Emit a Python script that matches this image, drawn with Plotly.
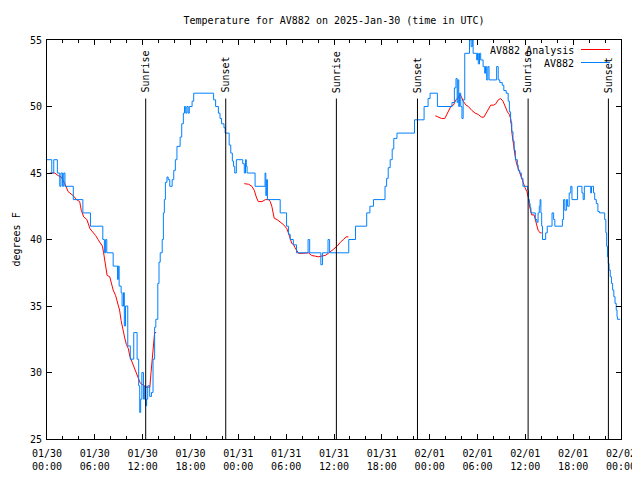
import pandas as pd
import plotly.graph_objects as go

start = pd.Timestamp("2025-01-30 00:00")
span_hours = 72

# AV882 observations: (hours since 01/30 00:00 UTC, temperature F), drawn as steps
obs = [(0.0,46),(0.6,45),(0.85,46),(1.3,45),(1.6,44),(1.75,45),(1.95,44),(2.1,45),(2.25,44),
       (3.3,43),(4.5,42),(5.45,41),(7.0,40),(7.2,39),(7.35,40),(7.5,39),(8.3,38),(8.85,37),
       (8.95,38),(9.05,36.5),(9.3,36),(9.42,35),(9.6,36),(9.7,33.5),(9.85,35),(10.13,32),
       (10.45,31),(10.88,33),(11.3,31),(11.5,29),(11.63,27),(11.75,28),(11.9,30),(12.1,28),
       (12.25,29),(12.38,27.5),(12.5,28),(12.63,29),(12.88,28.2),(13.1,28.5),(13.3,31),
       (13.5,33.4),(13.65,34),(13.9,36.7),(14.05,38.3),(14.2,39),(14.45,40),(14.6,42),
       (14.72,43),(14.85,44.3),(15.05,44.7),(15.2,44.5),(15.4,44),(15.7,44.5),(15.9,45.2),
       (16.1,46),(16.3,47),(16.7,47.7),(16.9,48.7),(17.1,49.5),(17.25,50),(17.4,49.5),
       (17.55,50),(17.7,49.5),(17.85,50),(18.2,50.4),(18.4,51),(20.9,50.5),(21.15,50),
       (21.5,49.5),(21.7,49.1),(21.9,48.7),(22.2,48.4),(22.35,48),(22.85,47.1),(23.05,46.5),
       (23.25,45.9),(23.4,45.5),(23.55,45),(23.75,46),(24.55,45.7),(24.75,45),(24.9,46),
       (25.0,45.5),(25.1,45),(26.1,44),(27.35,45),(27.45,43.3),(27.55,44.5),(27.65,43),
       (29.25,42),(30.05,41),(30.3,40.4),(30.5,40),(30.9,39.6),(31.3,39),(32.75,40),
       (32.95,39),(34.35,38.1),(34.55,39),(35.25,40),(35.45,39),(37.85,40),(38.7,41),
       (40.1,42),(40.5,42.5),(40.95,43),(42.4,44),(42.6,44.6),(42.8,45.4),(43.05,46),
       (43.3,46.8),(43.5,47.6),(43.9,48),(46.1,49),(47.3,50),(47.8,50.6),(48.05,51),
       (48.97,50),(50.8,50.3),(51.1,51.4),(51.3,52.1),(51.45,50.3),(51.55,52),(51.65,50),
       (51.75,51),(51.9,50),(52.05,49.1),(52.2,50.5),(52.4,54),(53.0,55),(53.2,54.5),
       (53.35,55),(53.45,54),(53.9,53.5),(54.0,54),(54.1,53.2),(54.25,54),(54.4,53.5),
       (54.7,53),(54.9,52.5),(55.0,53),(55.15,52),(55.3,53),(55.45,52),(56.4,53),(56.6,52),
       (56.8,51.8),(57.1,51.6),(57.3,51.2),(57.6,51),(57.85,50.4),(58.0,49.6),(58.15,48.8),
       (58.3,48.1),(58.45,47.4),(58.6,46.7),(58.75,46),(59.0,45.6),(59.1,45.2),(59.3,45),
       (59.5,44.6),(59.7,44),(60.3,43.7),(60.4,43),(60.5,42.7),(60.6,42.4),(60.7,42),
       (61.25,41.5),(61.45,41.3),(61.6,42),(61.75,42.5),(61.85,43),(61.95,42),(62.05,41),
       (62.15,40),(62.55,40.5),(62.75,41),(63.35,42),(63.55,41.5),(63.7,41),(64.65,41.5),
       (64.8,43),(64.95,42.2),(65.15,43),(65.3,42.5),(65.5,43.5),(65.7,44),(65.85,43),
       (66.55,44),(67.1,43.5),(67.25,43),(67.4,44),(68.2,43.5),(68.3,44),(68.55,43.5),
       (68.7,43),(68.9,42.7),(69.1,42.1),(69.3,42),(69.95,41.5),(70.1,40.5),(70.2,39.5),
       (70.3,38.7),(70.4,38.2),(70.5,37.7),(70.65,37.2),(70.8,36.7),(70.95,36.2),(71.1,35.7),
       (71.25,35.2),(71.4,34.7),(71.5,34.2),(71.55,34),(71.9,34)]

# AV882 Analysis: three segments
ana1_hours = [0.35,0.98,1.4,1.8,2.23,2.65,3.28,3.7,4.1,4.3,4.6,5.0,5.4,5.7,6.1,6.4,6.7,6.95,7.1,7.25,
              7.37,7.54,7.87,8.08,8.3,8.6,8.9,9.1,9.3,9.5,9.75,9.96,10.2,10.4,10.6,10.8,11.0,11.2,11.4,11.7,
              12.05,12.4,12.7,12.9,13.05,13.2,13.4,13.5,13.7]
ana1_temp = [45,45,44.8,44.7,44.2,43.6,43.3,43,42.85,42.2,41.7,41.5,40.8,40.6,40.3,40,39.7,39.5,39,38.5,
             38,37.3,37.2,36.7,36.2,35.8,35.2,34.7,33.9,33.2,32.6,32.1,31.8,31.2,30.9,30.5,30.3,29.9,29.7,29.2,
             29.06,28.9,28.9,28.9,30.0,31.2,32.2,33.0,33.0]
ana2_hours = [24.75,25.3,25.7,26.0,26.25,26.5,26.97,27.4,27.8,28.0,28.2,28.35,28.5,28.85,29.3,29.7,30.1,30.3,30.5,30.7,
              30.9,31.1,31.35,31.55,31.98,32.4,32.8,33.2,33.65,34.06,34.5,34.9,35.3,35.7,36.0,36.4,36.8,37.2,37.5,37.8]
ana2_temp = [44.2,44.15,44,43.7,43.2,42.85,42.85,43,43,42.85,42.5,42.1,41.6,41.5,41.3,41.1,40.8,40.5,40.1,39.7,
             39.65,39.4,39.1,38.96,38.96,39.0,39.0,38.8,38.76,38.7,38.76,38.8,38.96,39.2,39.3,39.5,39.8,40,40.2,40.2]
ana3_hours = [48.7,49.1,49.5,49.9,50.15,50.35,50.65,50.98,51.3,51.6,51.8,52.0,52.2,52.57,52.86,53.3,53.7,54.1,54.5,54.8,
              55.07,55.4,55.66,56.0,56.3,56.6,56.9,57.2,57.46,57.75,58.0,58.2,58.3,58.5,58.7,58.9,59.1,59.3,59.55,59.75,
              59.96,60.2,60.4,60.5,60.7,60.8,61.1,61.2,61.4,61.6,61.85,62.05]
ana3_temp = [49.3,49.2,49.1,49.1,49.4,49.6,50,50.1,50.5,50.7,50.9,50.7,50.4,50.1,50.0,49.7,49.5,49.4,49.2,49.2,
             49.5,49.8,50.1,50.1,50.2,50.5,50.6,50.4,50,49.6,49.4,49,48.1,47.1,46.35,45.7,45.35,44.9,44.6,44.2,
             43.9,43.6,43.1,42.6,42.1,41.85,41.85,41.6,41.1,40.7,40.5,40.5]

sunrise_hours = [12.38, 36.3, 60.35]
sunset_hours = [22.42, 46.47, 70.42]
sun_line_top = 50.6

xtick_hours = list(range(0, 73, 6))
xtick_labels = ["01/30<br>00:00", "01/30<br>06:00", "01/30<br>12:00", "01/30<br>18:00",
                "01/31<br>00:00", "01/31<br>06:00", "01/31<br>12:00", "01/31<br>18:00",
                "02/01<br>00:00", "02/01<br>06:00", "02/01<br>12:00", "02/01<br>18:00",
                "02/02<br>00:00"]

def to_time(hours):
    return [None if h is None else start + pd.Timedelta(hours=h) for h in hours]

ana_hours = ana1_hours + [None] + ana2_hours + [None] + ana3_hours
ana_temp = ana1_temp + [None] + ana2_temp + [None] + ana3_temp
obs_hours = [h for h, _ in obs]
obs_temp = [t for _, t in obs]

FONT = dict(family="DejaVu Sans Mono", size=10, color="black")
RED = "#ff0000"
BLUE = "#0080ff"

fig = go.Figure()
fig.add_trace(go.Scatter(x=to_time(ana_hours), y=ana_temp, mode="lines", name="AV882 Analysis",
                         line=dict(color=RED, width=1), connectgaps=False))
fig.add_trace(go.Scatter(x=to_time(obs_hours), y=obs_temp, mode="lines", name="AV882",
                         line=dict(color=BLUE, width=1, shape="hv")))

for label, hours in (("Sunrise", sunrise_hours), ("Sunset", sunset_hours)):
    for h in hours:
        t = start + pd.Timedelta(hours=h)
        fig.add_shape(type="line", xref="x", yref="y", x0=t, x1=t, y0=25, y1=sun_line_top,
                      line=dict(color="black", width=1))
        fig.add_annotation(x=t, y=sun_line_top + 0.35, xref="x", yref="y", text=label,
                           textangle=-90, showarrow=False, yanchor="bottom", xanchor="center",
                           font=FONT, borderpad=0)

# page offset of the figure inside the browser (body margin)
OFF = 8
FIG_W, FIG_H = 640 - OFF, 480 - OFF
# plot area in window pixels: x 47..621, y 40..439
L, R, T, B = 47, 621, 40, 439
W, H = R - L, B - T
def px(xp): return (xp - L) / W
def py(yp): return (B - yp) / H

legend_rows = [("AV882 Analysis", RED, 50.0), ("AV882", BLUE, 63.0)]
for text, col, ypix in legend_rows:
    fig.add_annotation(x=px(575), y=py(ypix), xref="paper", yref="paper", text=text,
                       showarrow=False, xanchor="right", yanchor="middle", font=FONT, borderpad=0)
    fig.add_shape(type="line", xref="paper", yref="paper", x0=px(581), x1=px(610),
                  y0=py(ypix - 0.5), y1=py(ypix - 0.5), line=dict(color=col, width=1))

fig.add_annotation(x=px(16), y=0.5, xref="paper", yref="paper", text="degrees F", textangle=-90,
                   showarrow=False, xanchor="center", yanchor="middle", font=FONT, borderpad=0)

fig.update_layout(
    width=FIG_W, height=FIG_H,
    margin=dict(l=L - OFF, r=640 - R, t=T - OFF, b=480 - B, autoexpand=False),
    paper_bgcolor="white", plot_bgcolor="white",
    showlegend=False,
    title=dict(text="Temperature for AV882 on 2025-Jan-30 (time in UTC)", x=0.5, xref="paper",
               xanchor="center", y=1 - (20 - OFF) / FIG_H, yref="container", yanchor="middle",
               font=FONT),
)
fig.update_xaxes(
    type="date",
    range=[start, start + pd.Timedelta(hours=span_hours)],
    tickmode="array", tickvals=to_time(xtick_hours), ticktext=xtick_labels,
    ticks="inside", ticklen=5, tickcolor="black", tickwidth=1,
    showline=True, linecolor="black", linewidth=1, mirror="allticks",
    showgrid=False, zeroline=False, tickfont=FONT, ticklabelstandoff=5,
    minor=dict(ticks="inside", ticklen=3, tickcolor="black", dtick=2 * 3600 * 1000,
               tick0=start, showgrid=False),
)
fig.update_yaxes(
    range=[25, 55], dtick=5, tick0=25,
    ticks="inside", ticklen=5, tickcolor="black", tickwidth=1,
    showline=True, linecolor="black", linewidth=1, mirror="allticks",
    showgrid=False, zeroline=False, tickfont=FONT, ticklabelstandoff=2,
)

fig.write_html("out.html")
